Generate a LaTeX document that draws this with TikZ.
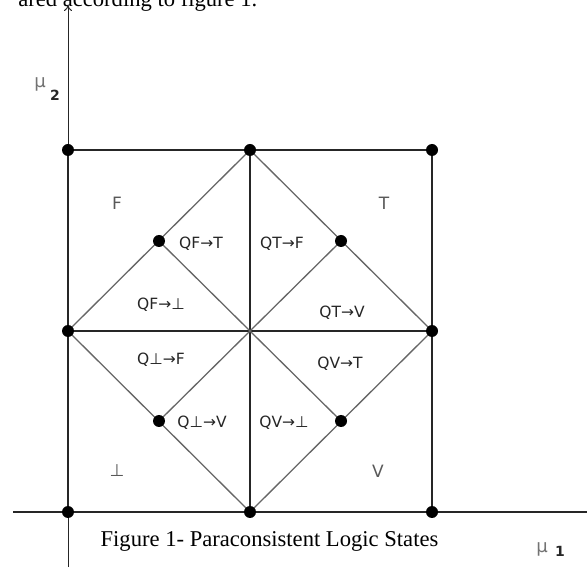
\documentclass[tikz,border=0pt]{standalone}
\usepackage{fontspec}
\setmainfont{Liberation Serif}
\newfontfamily\lblfont{DejaVu Sans}
\usetikzlibrary{arrows.meta}
\begin{document}
\begin{tikzpicture}[x=1pt,y=-1pt,line width=1.3pt,
  dot/.style={circle,fill=black,inner sep=0pt,minimum size=12pt},
  sq/.style={draw=black!85},
  dia/.style={draw=black!60},
  lbl/.style={font=\lblfont\fontsize{15.5}{16}\selectfont,text=black!85,inner sep=0pt},
  reg/.style={font=\lblfont\fontsize{17}{18}\selectfont,text=black!65,inner sep=0pt},
  mu/.style={font=\lblfont\fontsize{18}{18}\selectfont,text=black!55,inner sep=0pt},
  idx/.style={font=\lblfont\bfseries\fontsize{14}{14}\selectfont,text=black!85,inner sep=0pt}]
  \useasboundingbox (0,0) rectangle (587,569);
  \clip (0,0) rectangle (587,569);
  % text of the page above the figure
  \node[anchor=base east,inner sep=0pt,font=\fontsize{22.6}{24}\selectfont] (above) at (258,7) {ared according to figure 1.};
  % axes
  \coordinate (xa) at (13,512); \coordinate (xb) at (590,512);
  \coordinate (ya) at (68,567); \coordinate (yb) at (68,5);
  \draw[sq] (xa) -- (xb);
  \draw[sq,-{To[length=6pt,width=8pt]},line width=1pt] (ya) -- (yb);
  \node[mu] (mu2) at (40,84) {μ}; \node[idx] (i2) at (55,95) {2};
  \node[mu] (mu1) at (542,549) {μ}; \node[idx] (i1) at (560,551) {1};
  % grid points
  \coordinate (p11) at (68,150);  \coordinate (p12) at (250,150); \coordinate (p13) at (432,150);
  \coordinate (p21) at (68,331);  \coordinate (p22) at (250,331); \coordinate (p23) at (432,331);
  \coordinate (p31) at (68,512);  \coordinate (p32) at (250,512); \coordinate (p33) at (432,512);
  \coordinate (q1) at (159,241);  \coordinate (q2) at (341,241);
  \coordinate (q3) at (159,421);  \coordinate (q4) at (341,421);
  % lines
  \draw[sq] (p11) -- (p13) -- (p33) -- (p31) -- cycle;
  \draw[sq] (p12) -- (p32); \draw[sq] (p21) -- (p23);
  \draw[dia] (p12) -- (p23) -- (p32) -- (p21) -- cycle;
  \draw[dia] (q1) -- (q4); \draw[dia] (q2) -- (q3);
  % dots
  \foreach \p in {p11,p12,p13,p21,p23,p31,p32,p33,q1,q2,q3,q4}
    \node[dot] at (\p) {};
  % states
  \node[reg] (sF) at (117,203) {F};
  \node[reg] (sT) at (384,203) {T};
  \node[reg] (sB) at (117,471) {⊥};
  \node[reg] (sV) at (378,471) {V};
  % transitions
  \node[lbl] (FT) at (201,244) {QF→T};
  \node[lbl] (TF) at (282,244) {QT→F};
  \node[lbl] (FB) at (161,305) {QF→⊥};
  \node[lbl] (TV) at (342,313) {QT→V};
  \node[lbl] (BF) at (161,360) {Q⊥→F};
  \node[lbl] (VT) at (340,364) {QV→T};
  \node[lbl] (BV) at (202,423) {Q⊥→V};
  \node[lbl] (VB) at (284,423) {QV→⊥};
  % caption
  \node[anchor=base west,inner sep=0pt,font=\fontsize{22.6}{24}\selectfont] (cap) at (100,547) {Figure 1- Paraconsistent Logic States};
\end{tikzpicture}
\end{document}
